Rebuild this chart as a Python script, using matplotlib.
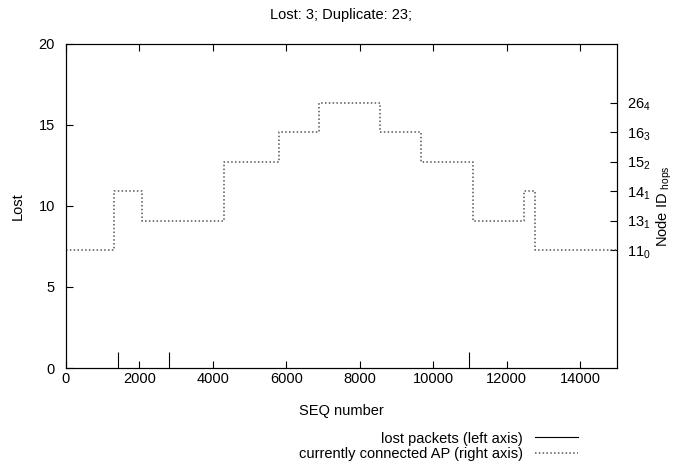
import numpy as np
import matplotlib
matplotlib.use("Agg")
import matplotlib.pyplot as plt

plt.rcParams['font.family'] = ['Liberation Sans', 'DejaVu Sans']
plt.rcParams['mathtext.default'] = 'regular'
plt.rcParams['font.size'] = 10.5

# lost packets (impulses)
lost_seq = [1420, 2800, 10960]
lost_val = [1, 1, 1]

# currently connected AP: step change points and level index on right axis
ap_seq = [0, 1320, 2060, 4300, 5790, 6890, 8540, 9660, 11080, 12460, 12780, 15000]
ap_level = [0, 2, 1, 3, 4, 5, 4, 3, 1, 2, 0, 0]
ap_labels = ['11$_0$', '13$_1$', '14$_1$', '15$_2$', '16$_3$', '26$_4$']

fig = plt.figure(figsize=(6.78, 4.66), dpi=100)
ax = fig.add_axes([0.0973, 0.2103, 0.8127, 0.6953])
ax2 = ax.twinx()

ax.vlines(lost_seq, 0, lost_val, color='black', lw=0.8)
ax2.step(ap_seq, ap_level, where='post', color='#555555', ls=(0, (1, 1.5)), lw=1.1)

ax.set_xlim(0, 15000)
ax.set_ylim(0, 20)
ax.set_xticks(np.arange(0, 15000, 2000))
ax.set_yticks([0, 5, 10, 15, 20])
ax.tick_params(axis='x', direction='in', length=5, top=True, pad=3)
ax.tick_params(axis='y', direction='in', length=5, right=False, pad=8)
ax.set_xlabel('SEQ number', labelpad=13)
ax.set_ylabel('Lost', labelpad=10)

ax2.set_ylim(-4, 7)
ax2.set_yticks(range(len(ap_labels)))
ax2.set_yticklabels(ap_labels)
ax2.tick_params(direction='in', length=5, pad=7)
ax2.set_ylabel('Node ID $_{hops}$', labelpad=3)

ax.set_title('Lost: 3; Duplicate: 23;', fontsize=10.5, pad=18)

h1 = plt.Line2D([], [], color='black', lw=0.8)
h2 = plt.Line2D([], [], color='#555555', ls=(0, (1, 1.5)), lw=1.1)
fig.legend([h1, h2], ['lost packets (left axis)', 'currently connected AP (right axis)'],
           loc='upper right', bbox_to_anchor=(0.853, 0.074), frameon=False,
           markerfirst=False, handlelength=3.0, handletextpad=0.8,
           labelspacing=0.1, borderaxespad=0, borderpad=0)

fig.savefig('out.png', dpi=100)
